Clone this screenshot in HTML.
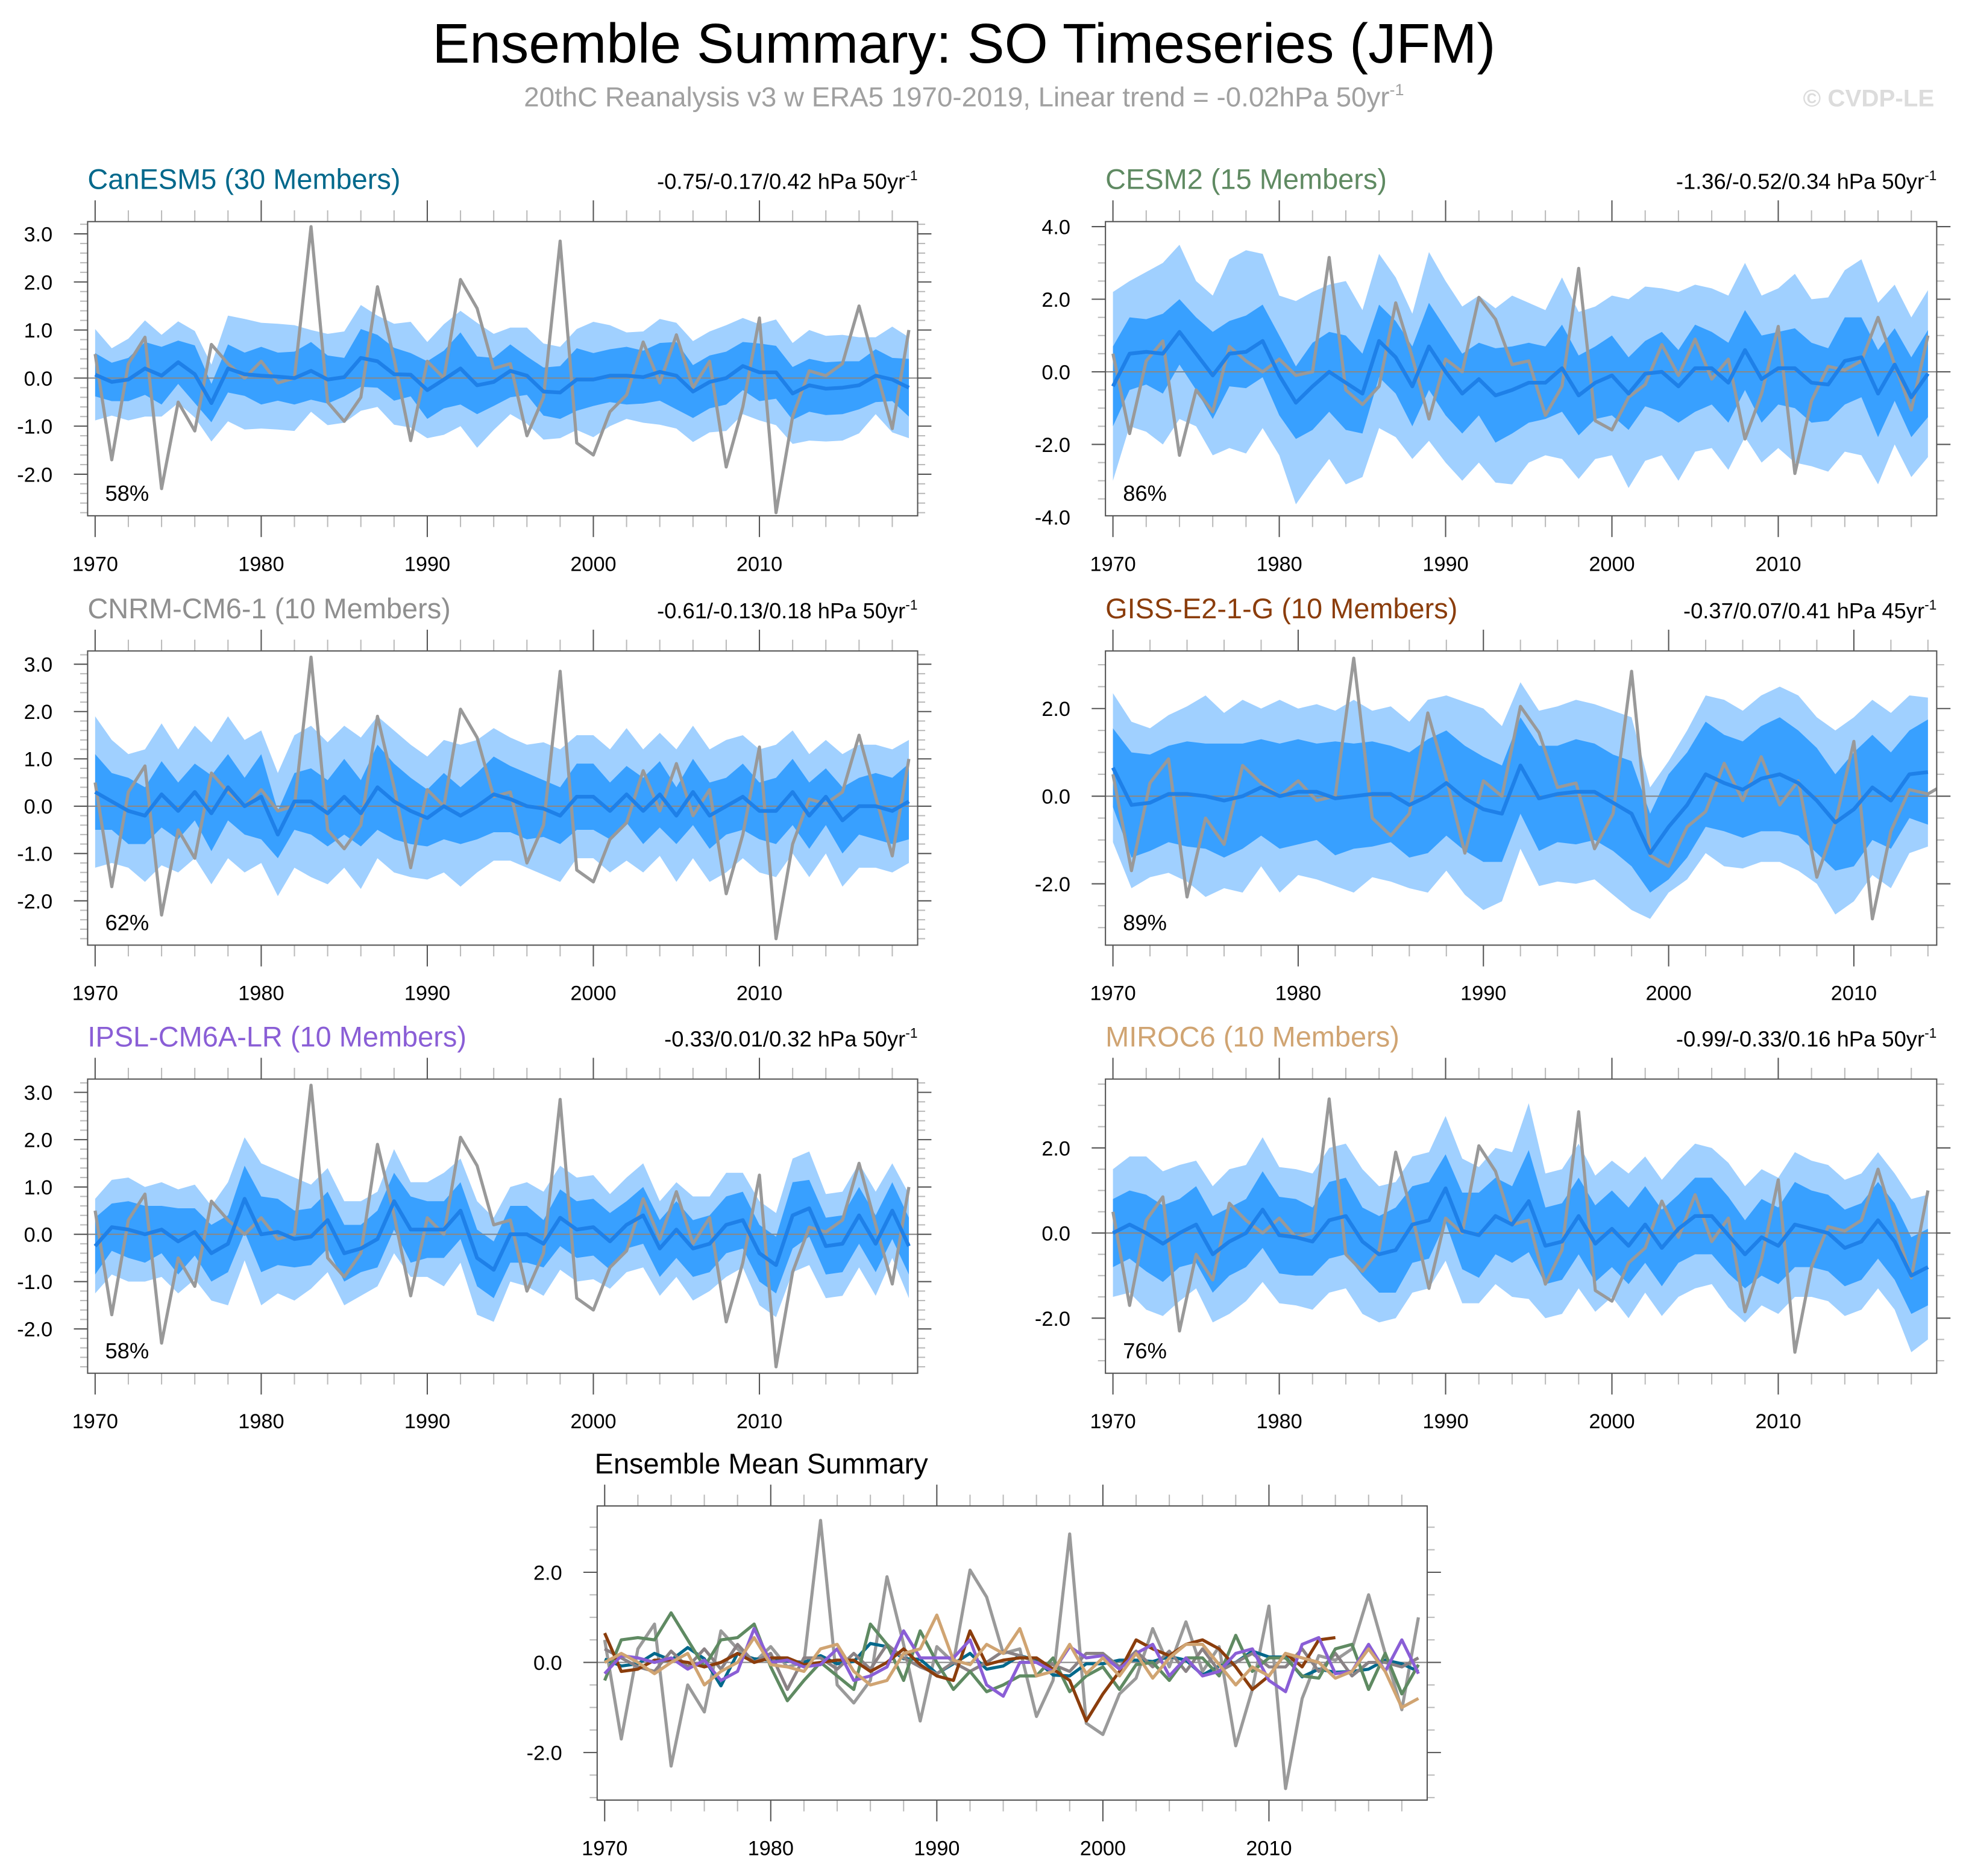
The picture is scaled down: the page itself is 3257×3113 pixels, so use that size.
<!DOCTYPE html>
<html><head><meta charset="utf-8"><style>
html,body{margin:0;padding:0;background:#fff}
svg{display:block}
text{font-family:"Liberation Sans",sans-serif}
</style></head><body>
<svg id="chart" width="3257" height="3113" viewBox="0 0 1568 1498.6" xmlns="http://www.w3.org/2000/svg">
<text x="770" y="50" text-anchor="middle" font-size="44.7" fill="#000">Ensemble Summary: SO Timeseries (JFM)</text>
<text x="770" y="85" text-anchor="middle" font-size="22" fill="#a0a0a0">20thC Reanalysis v3 w ERA5 1970-2019, Linear trend = -0.02hPa 50yr<tspan dy="-9" font-size="13">-1</tspan></text>
<text x="1545" y="85" text-anchor="end" font-size="19.4" font-weight="bold" fill="#dcdcdc">© CVDP-LE</text>
<g id="panels"></g>
</svg>
<script>
const years = [];
for (let y = 1970; y <= 2019; y++) years.push(y);
const obsValues = [0.5,-1.7,0.3,0.85,-2.3,-0.5,-1.1,0.7,0.3,0.0,0.35,-0.1,0.0,3.15,-0.5,-0.9,-0.4,1.9,0.4,-1.3,0.35,0.0,2.05,1.45,0.2,0.3,-1.2,-0.4,2.85,-1.35,-1.6,-0.7,-0.35,0.75,-0.1,0.9,-0.2,0.35,-1.85,-0.6,1.25,-2.8,-0.8,0.15,0.05,0.3,1.5,0.2,-1.05,1.0];
const canMean = [0.07,-0.08,-0.03,0.2,0.05,0.33,0.08,-0.52,0.2,0.08,0.05,0.03,0.0,0.15,-0.03,0.02,0.42,0.35,0.08,0.07,-0.25,-0.03,0.2,-0.15,-0.08,0.15,0.05,-0.28,-0.3,-0.03,-0.03,0.05,0.05,0.02,0.13,0.05,-0.28,-0.08,0.0,0.25,0.12,0.12,-0.32,-0.15,-0.22,-0.2,-0.15,0.05,-0.03,-0.2];
const canInner = [0.45,0.4,0.45,0.55,0.6,0.45,0.6,0.4,0.5,0.45,0.6,0.5,0.55,0.6,0.5,0.4,0.6,0.55,0.55,0.45,0.6,0.6,0.75,0.6,0.5,0.55,0.4,0.5,0.55,0.65,0.55,0.55,0.6,0.55,0.6,0.7,0.55,0.55,0.55,0.5,0.6,0.55,0.55,0.55,0.55,0.55,0.5,0.55,0.45,0.6];
const canOuter = [0.95,0.7,0.85,1.0,0.85,0.85,0.9,0.8,1.1,1.15,1.1,1.1,1.1,0.85,0.95,0.95,1.1,0.95,1.05,1.1,1.0,1.15,1.2,1.3,1.0,0.9,1.0,1.0,0.95,1.05,1.2,1.05,0.9,0.95,1.1,1.1,1.05,1.05,1.1,1.0,1.0,1.1,1.05,1.15,1.1,1.1,1.0,0.8,1.1,1.05];
const cesmMean = [-0.4,0.5,0.55,0.5,1.1,0.5,-0.1,0.5,0.55,0.85,-0.1,-0.85,-0.4,0.0,-0.3,-0.6,0.85,0.4,-0.4,0.7,0.0,-0.6,-0.2,-0.65,-0.5,-0.3,-0.3,0.1,-0.65,-0.3,-0.1,-0.6,-0.05,0.0,-0.4,0.1,0.1,-0.3,0.6,-0.2,0.1,0.1,-0.3,-0.35,0.3,0.4,-0.6,0.2,-0.7,-0.05];
const cesmInner = [1.1,1.0,0.9,1.1,0.9,1.0,1.2,0.9,1.0,1.0,1.1,1.0,1.2,1.1,1.3,1.1,1.0,1.0,1.1,1.2,1.2,1.1,1.0,1.3,1.2,1.1,1.0,1.2,1.1,1.0,1.1,1.0,0.9,1.1,1.0,1.2,1.0,1.1,1.1,1.2,1.0,1.1,1.1,1.0,1.2,1.1,1.2,1.0,1.1,1.2];
const cesmOuter = [2.6,2.0,2.2,2.5,2.4,2.0,2.2,2.6,2.8,2.4,2.2,2.8,2.6,2.4,2.8,2.3,2.4,2.2,2.0,2.6,2.5,2.4,2.3,2.4,2.6,2.2,2.0,2.5,2.3,2.1,2.2,2.6,2.4,2.3,2.6,2.3,2.2,2.4,2.4,2.3,2.2,2.6,2.3,2.4,2.5,2.7,2.5,2.2,2.2,2.3];
const cnrmMean = [0.3,0.1,-0.1,-0.2,0.25,-0.1,0.3,-0.15,0.4,0.0,0.2,-0.6,0.1,0.1,-0.15,0.2,-0.15,0.4,0.1,-0.1,-0.25,0.0,-0.2,0.0,0.25,0.15,0.0,-0.05,-0.2,0.2,0.2,-0.1,0.25,-0.1,0.25,-0.2,0.3,-0.2,0.0,0.2,-0.1,-0.1,0.3,-0.2,0.2,-0.3,0.0,0.0,-0.1,0.1];
const cnrmInner = [0.8,0.6,0.7,0.6,0.7,0.6,0.6,0.8,0.7,0.6,0.9,0.5,0.6,0.7,0.7,0.8,0.7,0.9,0.8,0.7,0.6,0.7,0.6,0.7,0.8,0.7,0.7,0.6,0.6,0.7,0.7,0.6,0.6,0.7,0.7,0.6,0.7,0.7,0.6,0.7,0.6,0.7,0.7,0.7,0.6,0.7,0.6,0.7,0.7,0.8];
const cnrmOuter = [1.6,1.3,1.2,1.4,1.5,1.3,1.4,1.5,1.5,1.4,1.4,1.3,1.4,1.6,1.5,1.5,1.6,1.5,1.5,1.4,1.3,1.4,1.5,1.4,1.4,1.3,1.3,1.4,1.4,1.3,1.3,1.3,1.4,1.3,1.3,1.4,1.4,1.4,1.4,1.3,1.3,1.4,1.3,1.3,1.2,1.4,1.3,1.3,1.3,1.3];
const gissYears = years.slice(0, 45);
const gissMean = [0.65,-0.2,-0.15,0.05,0.05,0.0,-0.1,0.0,0.2,0.0,0.1,0.1,-0.05,0.0,0.05,0.05,-0.2,0.0,0.3,-0.05,-0.3,-0.4,0.7,-0.05,0.05,0.1,0.1,-0.15,-0.4,-1.3,-0.7,-0.2,0.5,0.3,0.15,0.4,0.5,0.3,-0.1,-0.6,-0.3,0.2,-0.1,0.5,0.55];
const gissInner = [0.9,1.2,1.1,1.1,1.2,1.2,1.3,1.2,1.1,1.2,1.2,1.1,1.3,1.2,1.2,1.1,1.2,1.3,1.2,1.2,1.2,1.1,1.1,1.2,1.1,1.2,1.1,1.1,1.2,0.9,1.2,1.2,1.2,1.1,1.1,1.2,1.3,1.2,1.2,1.1,1.3,1.2,1.1,1.0,1.2];
const gissOuter = [1.7,1.9,1.7,1.8,2.0,2.3,2.0,2.2,1.8,2.2,1.9,2.0,2.0,2.2,1.9,2.0,1.9,2.2,2.0,2.2,2.3,2.0,1.9,2.0,2.0,2.1,2.0,2.1,2.2,1.5,1.5,1.7,1.8,1.9,1.8,1.9,2.0,2.0,1.9,2.1,2.1,2.0,2.0,1.8,1.7];
const ipslMean = [-0.25,0.15,0.1,0.0,0.1,-0.15,0.05,-0.4,-0.2,0.75,0.0,0.05,-0.1,-0.05,0.3,-0.4,-0.3,-0.1,0.7,0.1,0.1,0.1,0.5,-0.5,-0.75,0.0,0.0,-0.2,0.35,0.1,0.15,-0.15,0.2,0.4,-0.3,0.1,-0.3,-0.2,0.2,0.3,-0.4,-0.65,0.4,0.55,-0.25,-0.2,0.4,-0.2,0.5,-0.25];
const ipslInner = [0.6,0.5,0.6,0.6,0.5,0.7,0.5,0.6,0.6,0.7,0.8,0.7,0.6,0.6,0.6,0.6,0.5,0.6,0.6,0.7,0.6,0.6,0.6,0.6,0.6,0.6,0.6,0.5,0.6,0.6,0.6,0.6,0.5,0.6,0.6,0.6,0.6,0.6,0.6,0.6,0.6,0.6,0.7,0.6,0.6,0.6,0.6,0.6,0.6,0.6];
const ipslOuter = [1.0,1.0,1.1,1.0,1.0,1.1,1.0,1.0,1.3,1.3,1.5,1.3,1.3,1.1,1.1,1.1,1.0,1.0,1.1,1.0,1.0,1.2,1.1,1.2,1.1,1.0,1.1,1.1,1.1,1.1,1.1,1.0,1.0,1.1,1.0,1.0,1.1,1.0,1.1,1.0,1.1,1.1,1.2,1.2,1.1,1.1,1.1,1.1,1.0,1.1];
const mirocMean = [0.0,0.2,0.0,-0.25,0.0,0.2,-0.5,-0.2,0.0,0.55,-0.05,-0.1,-0.2,0.3,0.4,-0.2,-0.5,-0.4,0.2,0.3,1.05,0.05,-0.05,0.4,0.2,0.75,-0.3,-0.2,0.4,-0.25,0.1,-0.3,0.2,-0.35,0.1,0.4,0.4,-0.05,-0.5,-0.1,-0.3,0.2,0.1,0.0,-0.35,-0.2,0.3,-0.2,-1.0,-0.8];
const mirocInner = [0.8,0.8,0.9,0.9,0.8,0.9,0.9,0.8,0.8,0.9,0.9,0.9,0.8,0.9,0.9,0.8,0.9,1.0,0.9,0.9,0.8,0.9,1.0,0.9,0.9,1.2,0.9,0.9,0.9,0.9,0.9,0.9,0.9,0.9,0.8,0.9,0.9,0.9,0.8,0.9,0.9,1.0,0.9,0.9,0.9,0.9,0.9,0.9,0.9,0.9];
const mirocOuter = [1.5,1.6,1.8,1.7,1.6,1.5,1.6,1.7,1.6,1.7,1.6,1.6,1.6,1.7,1.7,1.7,1.6,1.6,1.6,1.6,1.7,1.7,1.6,1.6,1.7,2.3,1.7,1.7,1.7,1.6,1.6,1.7,1.6,1.6,1.6,1.7,1.6,1.7,1.6,1.6,1.6,1.7,1.6,1.6,1.6,1.6,1.6,1.6,1.8,1.7];
const yTicksA = [-2, -1, 0, 1, 2, 3];
const yTicksB = [-4, -2, 0, 2, 4];
const yTicksC = [-2, 0, 2];
const xTickYears = [1970, 1980, 1990, 2000, 2010];

const NS = "http://www.w3.org/2000/svg";
const root = document.getElementById('panels');
function mk(tag, attrs, parent) {
  const e = document.createElementNS(NS, tag);
  for (const k in attrs) e.setAttribute(k, attrs[k]);
  (parent || root).appendChild(e);
  return e;
}

const panels = [
  {key:'canesm5', title:'CanESM5 (30 Members)', color:'#00688b', trend:'-0.75/-0.17/0.42 hPa 50yr', pct:'58%', bx:70, by:177, bw:663, bh:235, x0:76, yr1:2019, y0:302, upu:38.4, ticks:yTicksA, minor:0.2, yrs:years, mean:canMean, inner:canInner, outer:canOuter},
  {key:'cesm2', title:'CESM2 (15 Members)', color:'#5f8a62', trend:'-1.36/-0.52/0.34 hPa 50yr', pct:'86%', bx:883, by:177, bw:664, bh:235, x0:889, yr1:2019, y0:297, upu:29, ticks:yTicksB, minor:0.5, yrs:years, mean:cesmMean, inner:cesmInner, outer:cesmOuter},
  {key:'cnrm', title:'CNRM-CM6-1 (10 Members)', color:'#8f8f8f', trend:'-0.61/-0.13/0.18 hPa 50yr', pct:'62%', bx:70, by:520, bw:663, bh:235, x0:76, yr1:2019, y0:644, upu:37.8, ticks:yTicksA, minor:0.2, yrs:years, mean:cnrmMean, inner:cnrmInner, outer:cnrmOuter},
  {key:'giss', title:'GISS-E2-1-G (10 Members)', color:'#8b3d0c', trend:'-0.37/0.07/0.41 hPa 45yr', pct:'89%', bx:883, by:520, bw:664, bh:235, x0:889, yr1:2014, y0:636, upu:35, ticks:yTicksC, minor:0.5, yrs:gissYears, mean:gissMean, inner:gissInner, outer:gissOuter},
  {key:'ipsl', title:'IPSL-CM6A-LR (10 Members)', color:'#8a5ed6', trend:'-0.33/0.01/0.32 hPa 50yr', pct:'58%', bx:70, by:862, bw:663, bh:235, x0:76, yr1:2019, y0:986, upu:37.8, ticks:yTicksA, minor:0.2, yrs:years, mean:ipslMean, inner:ipslInner, outer:ipslOuter},
  {key:'miroc6', title:'MIROC6 (10 Members)', color:'#d0a472', trend:'-0.99/-0.33/0.16 hPa 50yr', pct:'76%', bx:883, by:862, bw:664, bh:235, x0:889, yr1:2019, y0:985, upu:34, ticks:yTicksC, minor:0.5, yrs:years, mean:mirocMean, inner:mirocInner, outer:mirocOuter}
];

function axes(p, g, clipId) {
  const ppy = (p.bx + p.bw - 7 - p.x0) / (p.yr1 - 1970);
  const X = yr => p.x0 + (yr - 1970) * ppy;
  const Y = v => p.y0 - v * p.upu;
  const cp = mk('clipPath', {id: clipId}, g);
  mk('rect', {x: p.bx, y: p.by, width: p.bw, height: p.bh}, cp);
  for (let yr = 1970; yr <= p.yr1; yr += 2) {
    const major = (yr % 10 === 0);
    const len = major ? 17 : 9;
    const x = X(yr);
    const t1 = mk('line', {x1:x, x2:x, y1:p.by - len, y2:p.by, stroke:major ? '#555' : '#bbb', 'stroke-width':1}, g);
    
    
    const t2 = mk('line', {x1:x, x2:x, y1:p.by + p.bh, y2:p.by + p.bh + len, stroke:major ? '#555' : '#bbb', 'stroke-width':1}, g);
    
    
  }
  xTickYears.forEach(yr => {
    if (yr > p.yr1) return;
    const t = mk('text', {x:X(yr), y:p.by + p.bh + 44, 'text-anchor':'middle', 'font-size':16.5, fill:'#000'}, g);
    t.textContent = String(yr);
    
    
  });
  const vmax = (p.y0 - p.by) / p.upu, vmin = (p.y0 - p.by - p.bh) / p.upu;
  const step = p.minor;
  for (let v = Math.ceil(vmin / step) * step; v <= vmax + 1e-6; v += step) {
    const vr = Math.round(v * 100) / 100;
    const major = p.ticks.some(t => Math.abs(t - vr) < 1e-6);
    const len = major ? 11 : 6;
    const y = Y(vr);
    const l1 = mk('line', {x1:p.bx - len, x2:p.bx, y1:y, y2:y, stroke:major ? '#555' : '#bbb', 'stroke-width':1}, g);
    
    
    const l2 = mk('line', {x1:p.bx + p.bw, x2:p.bx + p.bw + len, y1:y, y2:y, stroke:major ? '#555' : '#bbb', 'stroke-width':1}, g);
    
    
  }
  p.ticks.forEach(v => {
    const y = Y(v);
    if (y < p.by - 6 || y > p.by + p.bh + 6) return;
    const t = mk('text', {x:p.bx - 28, y:y + 6, 'text-anchor':'end', 'font-size':16.5, fill:'#000'}, g);
    t.textContent = v.toFixed(1);
    
    
  });
  return {X, Y};
}

function linePath(xs, vals, X, Y) {
  return vals.map((v, i) => (i ? 'L' : 'M') + X(xs[i]).toFixed(2) + ',' + Y(v).toFixed(2)).join(' ');
}
function bandPath(xs, mean, half, X, Y) {
  const up = mean.map((m, i) => [X(xs[i]), Y(m + half[i])]);
  const dn = mean.map((m, i) => [X(xs[i]), Y(m - half[i])]).reverse();
  return 'M' + up.concat(dn).map(p => p[0].toFixed(2) + ',' + p[1].toFixed(2)).join(' L') + ' Z';
}

panels.forEach((p, idx) => {
  const g = mk('g', {});
  
  
  const tt = mk('text', {x:p.bx, y:p.by - 26, 'font-size':22.6, fill:p.color}, g);
  tt.textContent = p.title;
  
  
  const tr = mk('text', {x:p.bx + p.bw, y:p.by - 26, 'text-anchor':'end', 'font-size':17.5, fill:'#000'}, g);
  tr.textContent = p.trend;
  const sup = mk('tspan', {dy:-7, 'font-size':11}, tr);
  sup.textContent = '-1';
  
  
  const clipId = 'clip' + idx;
  const {X, Y} = axes(p, g, clipId);
  const pg = mk('g', {'clip-path':'url(#' + clipId + ')'}, g);
  const o = mk('path', {d:bandPath(p.yrs, p.mean, p.outer, X, Y), fill:'#a0d0ff'}, pg);
  
  
  const inn = mk('path', {d:bandPath(p.yrs, p.mean, p.inner, X, Y), fill:'#38a0ff'}, pg);
  
  
  const z = mk('line', {x1:p.bx, x2:p.bx + p.bw, y1:Y(0), y2:Y(0), stroke:'#888', 'stroke-width':1}, pg);
  
  
  const ob = mk('path', {d:linePath(years, obsValues, X, Y), fill:'none', stroke:'#999', 'stroke-width':2.5, 'stroke-linejoin':'round'}, pg);
  
  
  const mn = mk('path', {d:linePath(p.yrs, p.mean, X, Y), fill:'none', stroke:'#1e80e8', 'stroke-width':3, 'stroke-linejoin':'round'}, pg);
  
  
  const bx = mk('rect', {x:p.bx, y:p.by, width:p.bw, height:p.bh, fill:'none', stroke:'#555', 'stroke-width':1}, g);
  
  
  const pc = mk('text', {x:p.bx + 14, y:p.by + p.bh - 12, 'font-size':17.5, fill:'#000'}, g);
  pc.textContent = p.pct;
  
  
});

const summary = {key:'summary', bx:477, by:1203, bw:663, bh:235, x0:483, yr1:2019, y0:1328, upu:36, ticks:yTicksC, minor:0.5};
const sg = mk('g', {});


const st = mk('text', {x:475, y:1177, 'font-size':22.6, fill:'#000'}, sg);
st.textContent = 'Ensemble Mean Summary';


const sa = axes(summary, sg, 'clipS');
const spg = mk('g', {'clip-path':'url(#clipS)'}, sg);
const sz = mk('line', {x1:summary.bx, x2:summary.bx + summary.bw, y1:sa.Y(0), y2:sa.Y(0), stroke:'#888', 'stroke-width':1}, spg);


const seriesList = [
  ['observed', years, obsValues, '#9a9a9a'],
  ['canesm5', years, canMean, '#00688b'],
  ['cnrm', years, cnrmMean, '#8a8285'],
  ['cesm2', years, cesmMean, '#5f8a62'],
  ['giss', gissYears, gissMean, '#8b3d0c'],
  ['ipsl', years, ipslMean, '#8a5ed6'],
  ['miroc6', years, mirocMean, '#d0a472']
];
seriesList.forEach(s => {
  const pth = mk('path', {d:linePath(s[1], s[2], sa.X, sa.Y), fill:'none', stroke:s[3], 'stroke-width':2.5, 'stroke-linejoin':'round'}, spg);
  
  
});
const sf = mk('rect', {x:summary.bx, y:summary.by, width:summary.bw, height:summary.bh, fill:'none', stroke:'#555', 'stroke-width':1}, sg);


</script>
</body></html>
